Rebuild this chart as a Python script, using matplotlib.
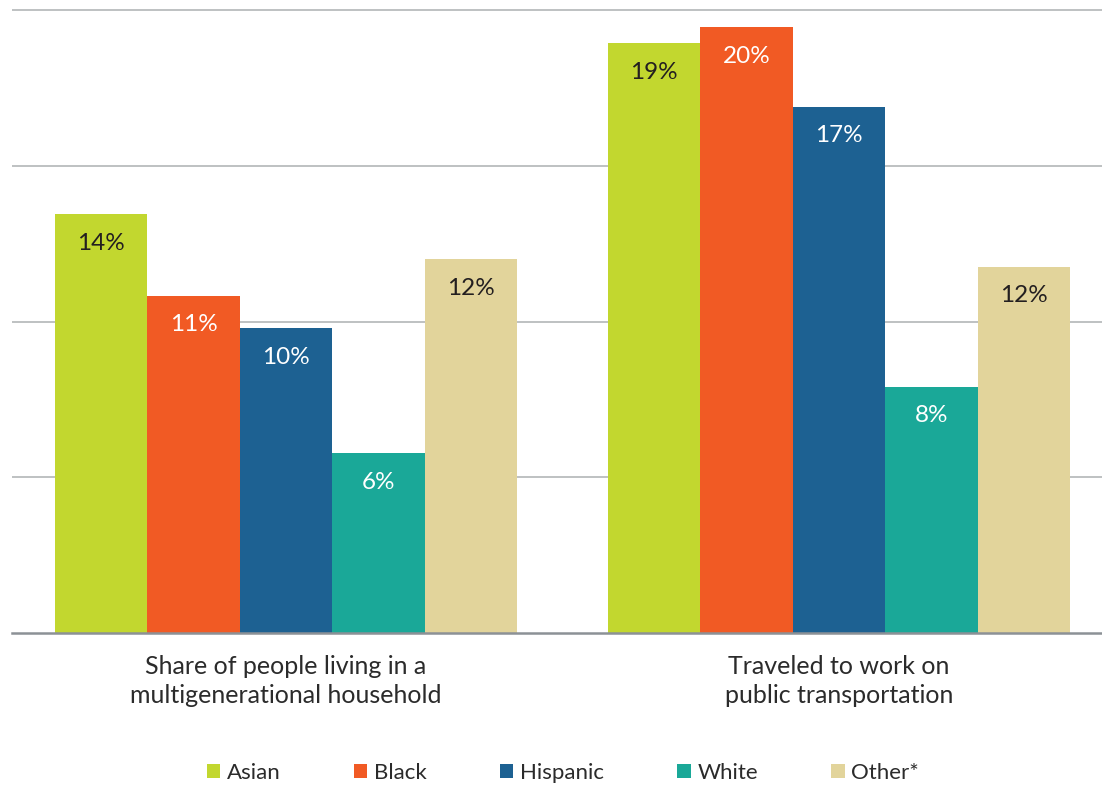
import matplotlib
matplotlib.use('Agg')
import matplotlib.pyplot as plt
import numpy as np
from matplotlib.patches import Patch

plt.rcParams['font.family'] = ['Lato', 'DejaVu Sans']

# data
categories = ['Share of people living in a\nmultigenerational household',
              'Traveled to work on\npublic transportation']
groups = ['Asian', 'Black', 'Hispanic', 'White', 'Other*']
values = {
    'Asian':    [13.45, 18.94],
    'Black':    [10.82, 19.45],
    'Hispanic': [9.78, 16.89],
    'White':    [5.77, 7.90],
    'Other*':   [12.00, 11.75],
}
labels = {
    'Asian':    ['14%', '19%'],
    'Black':    ['11%', '20%'],
    'Hispanic': ['10%', '17%'],
    'White':    ['6%', '8%'],
    'Other*':   ['12%', '12%'],
}
colors = {'Asian': '#c2d72f', 'Black': '#f15a24', 'Hispanic': '#1d6192',
          'White': '#1aa898', 'Other*': '#e2d49b'}
label_colors = {'Asian': '#231f20', 'Black': 'white', 'Hispanic': 'white',
                'White': 'white', 'Other*': '#231f20'}

W, H = 1102, 785
fig = plt.figure(figsize=(W / 100, H / 100), dpi=100)
ax = fig.add_axes([12 / W, (H - 633) / H, 1090 / W, 633 / H])

x = np.arange(len(categories))
width = 0.1673
for i, g in enumerate(groups):
    pos = x + (i - 2) * width
    bars = ax.bar(pos, values[g], width, color=colors[g], zorder=2)
    for b, lab in zip(bars, labels[g]):
        ax.annotate(lab, (b.get_x() + b.get_width() / 2, b.get_height()),
                    xytext=(0, -29), textcoords='offset pixels',
                    ha='center', va='center', fontsize=17.5,
                    color=label_colors[g], zorder=3)

ax.set_xlim(-0.4955, 1.4756)
ax.set_ylim(0, 20 * 633 / 623)
ax.set_yticks([5, 10, 15, 20])
ax.yaxis.grid(True, color='#b3b6b8', linewidth=1.2, zorder=0)
ax.set_axisbelow(True)
ax.tick_params(left=False, labelleft=False, bottom=False)
for s in ['top', 'right', 'left']:
    ax.spines[s].set_visible(False)
ax.spines['bottom'].set_color('#8c9196')
ax.spines['bottom'].set_linewidth(1.8)
ax.spines['bottom'].set_zorder(4)

ax.set_xticks(x)
ax.set_xticklabels(categories, fontsize=18, color='#2b2b2b', linespacing=1.35)
ax.tick_params(axis='x', pad=12)

handles = [Patch(facecolor=colors[g], label=g) for g in groups]
fig.legend(handles=handles, loc='center', bbox_to_anchor=(563 / W, 1 - 773 / H),
           ncol=5, frameon=False, fontsize=16, handlelength=0.6, handleheight=0.6,
           handletextpad=0.3, columnspacing=3.3, labelcolor='#2b2b2b')

fig.savefig('out.png', dpi=100)
